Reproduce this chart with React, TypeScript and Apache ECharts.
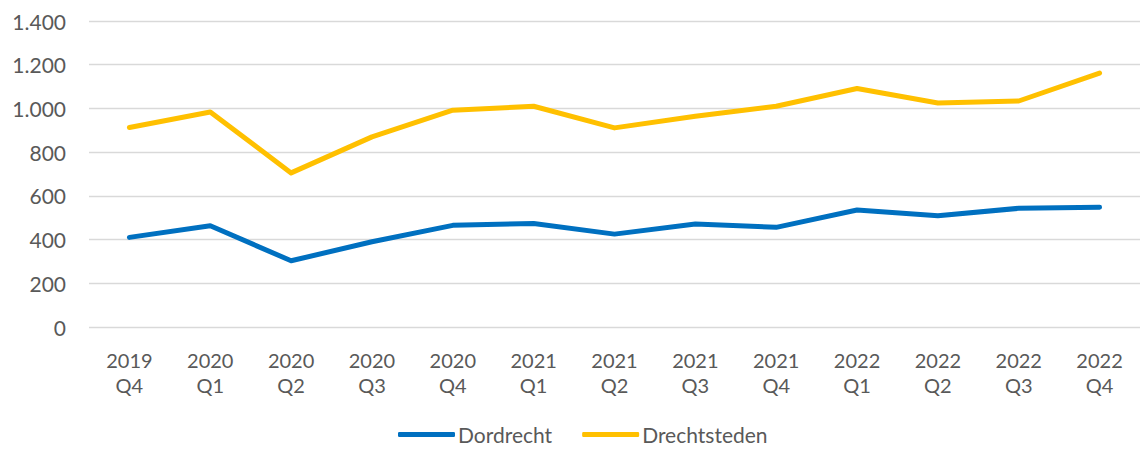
import React, { useEffect, useRef } from "react";
import * as echarts from "echarts";

const categories = [
  "2019\nQ4", "2020\nQ1", "2020\nQ2", "2020\nQ3", "2020\nQ4", "2021\nQ1", "2021\nQ2",
  "2021\nQ3", "2021\nQ4", "2022\nQ1", "2022\nQ2", "2022\nQ3", "2022\nQ4",
];
const dordrecht = [410, 463, 303, 390, 465, 474, 425, 471, 456, 535, 509, 543, 548];
const drechtsteden = [913, 984, 705, 870, 992, 1010, 911, 964, 1010, 1091, 1025, 1034, 1162];

const FONT = "Lato, 'Open Sans', sans-serif";
const TXT = "#595959";

export default function App() {
  const ref = useRef<HTMLDivElement>(null);
  useEffect(() => {
    const chart = echarts.init(ref.current!, null, { renderer: "svg" });
    chart.setOption({
      animation: false,
      grid: { left: 89, top: 21, width: 1056, height: 306, containLabel: false },
      legend: {
        left: 398,
        top: 424,
        padding: 0,
        itemGap: 30,
        itemWidth: 57,
        itemHeight: 5,
        icon: "roundRect",
        textStyle: { fontFamily: FONT, fontSize: 21, lineHeight: 21, color: TXT, padding: [0, 0, 0, -2] },
        data: ["Dordrecht", "Drechtsteden"],
      },
      xAxis: {
        type: "category",
        data: categories,
        boundaryGap: true,
        axisLine: { show: false },
        axisTick: { show: false },
        axisLabel: {
          fontFamily: FONT,
          fontSize: 20,
          color: TXT,
          lineHeight: 25,
          margin: 20,
          interval: 0,
        },
      },
      yAxis: {
        type: "value",
        min: 0,
        max: 1400,
        interval: 200,
        axisLine: { show: false },
        axisTick: { show: false },
        splitLine: { lineStyle: { color: "#d9d9d9", width: 1.3 } },
        axisLabel: {
          fontFamily: FONT,
          fontSize: 21,
          color: TXT,
          margin: 23,
          formatter: (v: number) => v.toLocaleString("nl-NL"),
        },
      },
      series: [
        {
          name: "Dordrecht",
          type: "line",
          data: dordrecht,
          symbol: "none",
          color: "#0070C0",
          lineStyle: { width: 5, color: "#0070C0", cap: "round", join: "round" },
        },
        {
          name: "Drechtsteden",
          type: "line",
          data: drechtsteden,
          symbol: "none",
          color: "#FFC000",
          lineStyle: { width: 5, color: "#FFC000", cap: "round", join: "round" },
        },
      ],
    });
    return () => chart.dispose();
  }, []);
  return (
    <div
      ref={ref}
      style={{ position: "fixed", left: 0, top: 0, width: 1140, height: 449, background: "#fff" }}
    />
  );
}
